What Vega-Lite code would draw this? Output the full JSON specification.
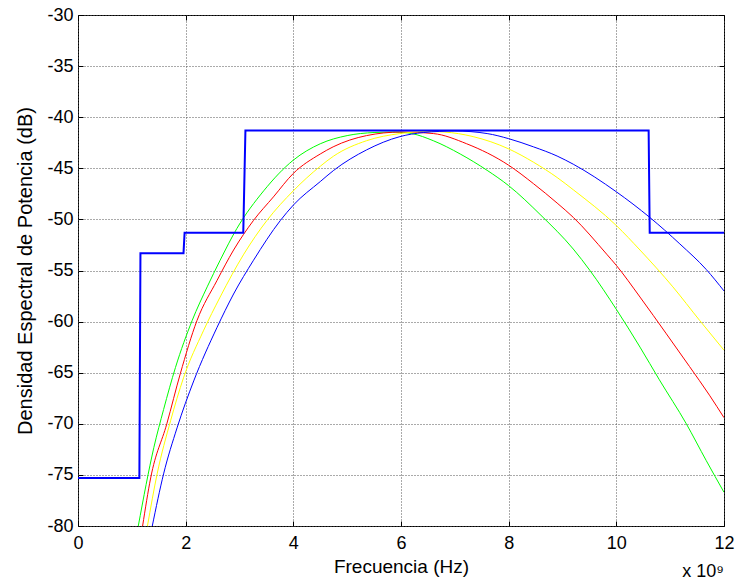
{
  "$schema": "https://vega.github.io/schema/vega-lite/v6.json",
  "width": 646,
  "height": 511,
  "autosize": {"type": "none"},
  "padding": {"left": 78, "top": 15, "right": 14, "bottom": 62},
  "background": "white",
  "config": {
    "font": "Liberation Sans",
    "view": {"stroke": "black", "strokeWidth": 1},
    "axis": {"labelFont": "Liberation Sans", "titleFont": "Liberation Sans", "labelFontSize": 18, "titleFontSize": 19, "labelColor": "black", "titleColor": "black", "titleFontWeight": "normal"}
  },
  "title": {"text": "x 10⁹", "orient": "bottom", "anchor": "end", "frame": "group", "fontSize": 18, "fontWeight": "normal", "font": "Liberation Sans", "color": "black", "offset": -13},
  "datasets": {
    "curves": [
      {"f": 1.12, "d": -80, "s": "g"}, {"f": 1.41, "d": -72.3, "s": "g"}, {"f": 1.59, "d": -68.6, "s": "g"}, {"f": 1.81, "d": -64.5, "s": "g"}, {"f": 2.12, "d": -59.9, "s": "g"}, {"f": 2.40, "d": -56.6, "s": "g"}, {"f": 2.64, "d": -54.0, "s": "g"}, {"f": 2.95, "d": -50.9, "s": "g"}, {"f": 3.45, "d": -47.2, "s": "g"}, {"f": 4.0, "d": -44.2, "s": "g"}, {"f": 4.5, "d": -42.6, "s": "g"}, {"f": 5.0, "d": -41.8, "s": "g"}, {"f": 5.5, "d": -41.5, "s": "g"}, {"f": 5.9, "d": -41.45, "s": "g"}, {"f": 6.2, "d": -41.6, "s": "g"}, {"f": 6.6, "d": -42.3, "s": "g"}, {"f": 7.1, "d": -43.6, "s": "g"}, {"f": 7.6, "d": -45.2, "s": "g"}, {"f": 8.0, "d": -46.7, "s": "g"}, {"f": 8.6, "d": -49.6, "s": "g"}, {"f": 9.2, "d": -52.9, "s": "g"}, {"f": 9.51, "d": -55.0, "s": "g"}, {"f": 10.0, "d": -58.8, "s": "g"}, {"f": 10.44, "d": -62.5, "s": "g"}, {"f": 10.8, "d": -65.7, "s": "g"}, {"f": 11.3, "d": -70.0, "s": "g"}, {"f": 11.67, "d": -73.6, "s": "g"}, {"f": 12, "d": -76.7, "s": "g"},
      {"f": 1.2, "d": -80, "s": "r"}, {"f": 1.35, "d": -75.3, "s": "r"}, {"f": 1.65, "d": -70.0, "s": "r"}, {"f": 1.90, "d": -65.1, "s": "r"}, {"f": 2.21, "d": -59.9, "s": "r"}, {"f": 2.58, "d": -56.0, "s": "r"}, {"f": 2.89, "d": -53.0, "s": "r"}, {"f": 3.26, "d": -50.1, "s": "r"}, {"f": 3.63, "d": -47.8, "s": "r"}, {"f": 4.0, "d": -45.5, "s": "r"}, {"f": 4.5, "d": -43.6, "s": "r"}, {"f": 4.74, "d": -42.9, "s": "r"}, {"f": 5.36, "d": -41.8, "s": "r"}, {"f": 6.0, "d": -41.45, "s": "r"}, {"f": 6.6, "d": -41.6, "s": "r"}, {"f": 7.22, "d": -42.6, "s": "r"}, {"f": 8.0, "d": -44.7, "s": "r"}, {"f": 8.46, "d": -46.5, "s": "r"}, {"f": 8.9, "d": -48.4, "s": "r"}, {"f": 9.2, "d": -49.8, "s": "r"}, {"f": 9.82, "d": -53.4, "s": "r"}, {"f": 10.0, "d": -54.5, "s": "r"}, {"f": 10.44, "d": -57.6, "s": "r"}, {"f": 10.93, "d": -61.2, "s": "r"}, {"f": 11.36, "d": -64.4, "s": "r"}, {"f": 11.73, "d": -67.2, "s": "r"}, {"f": 12, "d": -69.4, "s": "r"},
      {"f": 1.29, "d": -80, "s": "y"}, {"f": 1.47, "d": -74.9, "s": "y"}, {"f": 1.72, "d": -69.7, "s": "y"}, {"f": 1.96, "d": -65.5, "s": "y"}, {"f": 2.33, "d": -60.9, "s": "y"}, {"f": 2.64, "d": -57.6, "s": "y"}, {"f": 3.08, "d": -53.4, "s": "y"}, {"f": 3.51, "d": -50.1, "s": "y"}, {"f": 4.0, "d": -47.2, "s": "y"}, {"f": 4.5, "d": -44.8, "s": "y"}, {"f": 4.75, "d": -43.8, "s": "y"}, {"f": 5.36, "d": -42.3, "s": "y"}, {"f": 5.98, "d": -41.6, "s": "y"}, {"f": 6.5, "d": -41.4, "s": "y"}, {"f": 6.8, "d": -41.45, "s": "y"}, {"f": 7.34, "d": -41.9, "s": "y"}, {"f": 8.0, "d": -43.1, "s": "y"}, {"f": 8.46, "d": -44.4, "s": "y"}, {"f": 8.9, "d": -45.9, "s": "y"}, {"f": 9.2, "d": -47.1, "s": "y"}, {"f": 10.0, "d": -50.6, "s": "y"}, {"f": 10.44, "d": -53.0, "s": "y"}, {"f": 11.05, "d": -56.6, "s": "y"}, {"f": 11.55, "d": -59.9, "s": "y"}, {"f": 12, "d": -62.8, "s": "y"},
      {"f": 1.38, "d": -80, "s": "b"}, {"f": 1.59, "d": -74.9, "s": "b"}, {"f": 1.84, "d": -70.4, "s": "b"}, {"f": 2.15, "d": -65.8, "s": "b"}, {"f": 2.58, "d": -60.6, "s": "b"}, {"f": 2.89, "d": -57.3, "s": "b"}, {"f": 3.26, "d": -54.0, "s": "b"}, {"f": 3.76, "d": -50.1, "s": "b"}, {"f": 4.0, "d": -48.6, "s": "b"}, {"f": 4.5, "d": -46.3, "s": "b"}, {"f": 4.75, "d": -45.2, "s": "b"}, {"f": 5.36, "d": -43.2, "s": "b"}, {"f": 5.98, "d": -41.9, "s": "b"}, {"f": 6.42, "d": -41.5, "s": "b"}, {"f": 7.0, "d": -41.35, "s": "b"}, {"f": 7.6, "d": -41.6, "s": "b"}, {"f": 8.0, "d": -42.1, "s": "b"}, {"f": 8.46, "d": -42.9, "s": "b"}, {"f": 8.9, "d": -43.8, "s": "b"}, {"f": 9.2, "d": -44.6, "s": "b"}, {"f": 10.0, "d": -47.3, "s": "b"}, {"f": 10.62, "d": -49.8, "s": "b"}, {"f": 11.18, "d": -52.4, "s": "b"}, {"f": 11.67, "d": -54.9, "s": "b"}, {"f": 12, "d": -57.0, "s": "b"}
    ],
    "mask": [
      {"i": 0, "f": 0, "d": -75.3}, {"i": 1, "f": 1.14, "d": -75.3}, {"i": 2, "f": 1.16, "d": -53.3}, {"i": 3, "f": 1.96, "d": -53.3}, {"i": 4, "f": 1.98, "d": -51.3}, {"i": 5, "f": 3.07, "d": -51.3}, {"i": 6, "f": 3.11, "d": -41.3}, {"i": 7, "f": 10.6, "d": -41.3}, {"i": 8, "f": 10.62, "d": -51.3}, {"i": 9, "f": 12, "d": -51.3}
    ]
  },
  "layer": [
    {
      "data": {"name": "curves"},
      "mark": {"type": "line", "strokeWidth": 1, "clip": true, "interpolate": "monotone"},
      "encoding": {
        "x": {"field": "f", "type": "quantitative", "scale": {"domain": [0, 12], "nice": false, "zero": false},
          "axis": {"orient": "bottom", "title": "Frecuencia (Hz)", "values": [0, 2, 4, 6, 8, 10, 12], "labelExpr": "'' + datum.value", "grid": true, "gridColor": "#555", "gridDash": [1, 2], "gridWidth": 1, "domain": false, "ticks": true, "tickSize": -5, "tickColor": "black", "labelPadding": 13, "titlePadding": 5, "labelFlush": false}},
        "y": {"field": "d", "type": "quantitative", "scale": {"domain": [-80, -30], "nice": false, "zero": false},
          "axis": {"orient": "left", "title": "Densidad Espectral de Potencia (dB)", "titleFontSize": 20, "values": [-80, -75, -70, -65, -60, -55, -50, -45, -40, -35, -30], "labelExpr": "'' + datum.value", "grid": true, "gridColor": "#555", "gridDash": [1, 2], "gridWidth": 1, "domain": false, "ticks": true, "tickSize": -5, "tickColor": "black", "labelPadding": 10, "titlePadding": 11, "labelFlush": false}},
        "color": {"field": "s", "type": "nominal", "scale": {"domain": ["g", "r", "y", "b"], "range": ["#00ff00", "#ff0000", "#ffff00", "#0000ff"]}, "legend": null}
      }
    },
    {
      "data": {"name": "mask"},
      "mark": {"type": "line", "strokeWidth": 2, "color": "#0000ff", "clip": true},
      "encoding": {
        "x": {"field": "f", "type": "quantitative", "axis": {"orient": "top", "title": null, "labels": false, "grid": false, "domain": false, "values": [0, 2, 4, 6, 8, 10, 12], "tickSize": -5, "tickColor": "black"}},
        "y": {"field": "d", "type": "quantitative", "axis": {"orient": "right", "title": null, "labels": false, "grid": false, "domain": false, "values": [-80, -75, -70, -65, -60, -55, -50, -45, -40, -35, -30], "tickSize": -5, "tickColor": "black"}},
        "order": {"field": "i", "type": "quantitative"}
      }
    }
  ],
  "resolve": {"axis": {"x": "independent", "y": "independent"}}
}
